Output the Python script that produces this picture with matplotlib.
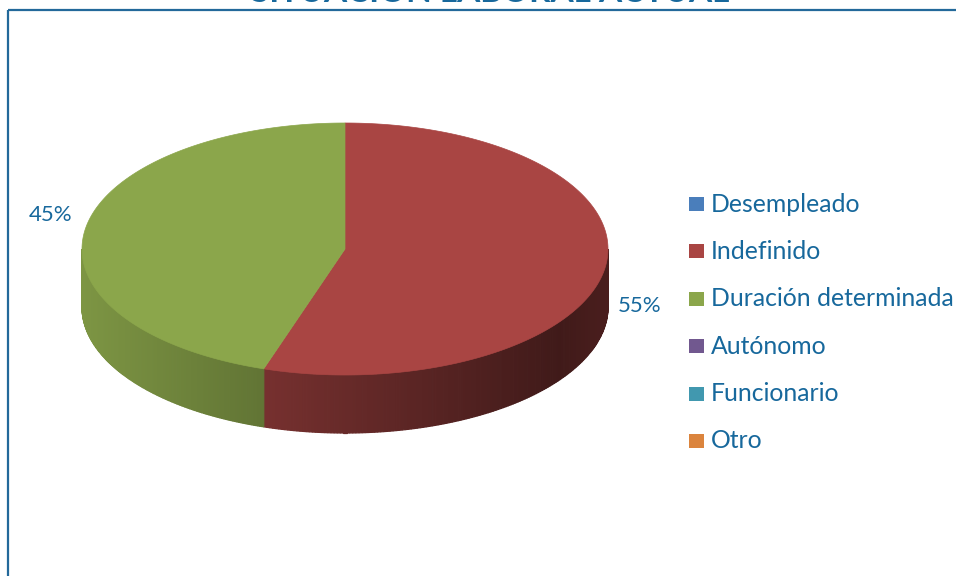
import numpy as np
import matplotlib
matplotlib.use("Agg")
import matplotlib.pyplot as plt
from matplotlib.patches import Polygon, Rectangle

# data
categories = ["Desempleado", "Indefinido", "Duración determinada",
              "Autónomo", "Funcionario", "Otro"]
values = [0, 55, 45, 0, 0, 0]
colors = ["#4a7ebb", "#a94543", "#8ba64b", "#71588f", "#4198af", "#db843d"]
title = "SITUACIÓN LABORAL ACTUAL"

TEXT = "#17689c"
plt.rcParams["font.family"] = ["Lato", "DejaVu Sans"]

W, H = 956, 576
fig = plt.figure(figsize=(W / 100, H / 100), dpi=100)
ax = fig.add_axes([0, 0, 1, 1])
ax.set_xlim(0, W)
ax.set_ylim(H, 0)
ax.axis("off")

# chart frame (only top and left edges visible)
ax.add_patch(Rectangle((8, 10), W + 20, H + 20, fill=False,
                       edgecolor="#23699a", lw=1.6))
ax.text(490, 7, title, ha="center", va="bottom", fontsize=24,
        fontweight="bold", color=TEXT)

# 3D pie geometry (pixels)
cx, cy, a, b, depth = 345, 249, 263, 126, 58


def ell(t):
    return cx + a * np.cos(t), cy - b * np.sin(t)


def shade(x):
    f = 0.9 - 0.52 * np.clip((x - 82) / (560 - 82), 0, 1)
    f += 0.06 * np.clip((x - 560) / 50, 0, 1)
    return f


total = sum(values)
slices = []
start = np.pi / 2
for v, c in zip(values, colors):
    if v == 0:
        continue
    sweep = 2 * np.pi * v / total
    slices.append((start - sweep, start, c, v))
    start -= sweep

# side walls (front half only), drawn as thin shaded strips
for t1, t2, c, v in slices:
    rgb = np.array(matplotlib.colors.to_rgb(c))
    for shift in (0, 2 * np.pi):
        lo, hi = max(t1 + shift, -np.pi), min(t2 + shift, 0)
        if hi <= lo:
            continue
        ts = np.linspace(lo, hi, 160)
        for i in range(len(ts) - 1):
            x0, y0 = ell(ts[i])
            x1, y1 = ell(ts[i + 1])
            col = np.clip(rgb * shade((x0 + x1) / 2), 0, 1)
            ax.add_patch(Polygon([(x0, y0), (x1, y1), (x1, y1 + depth),
                                  (x0, y0 + depth)], closed=True,
                                 facecolor=col, edgecolor=col, lw=0.9))

# top faces
for t1, t2, c, v in slices:
    ts = np.linspace(t1, t2, 200)
    xs, ys = ell(ts)
    pts = [(cx, cy)] + list(zip(xs, ys))
    ax.add_patch(Polygon(pts, closed=True, facecolor=c, edgecolor=c, lw=0.5))

# percentage labels
for t1, t2, c, v in slices:
    m = (t1 + t2) / 2
    lx = cx + 1.135 * a * np.cos(m)
    ly = cy - 1.15 * b * np.sin(m) + (0.6 * depth if np.sin(m) < 0 else -11)
    ax.text(lx, ly, f"{round(100 * v / total)}%", ha="center", va="center",
            fontsize=16, color=TEXT)

# legend
for i, (lab, c) in enumerate(zip(categories, colors)):
    y = 204 + i * 47.4
    ax.add_patch(Rectangle((689, y - 7), 15, 14, facecolor=c, edgecolor="none"))
    ax.text(711, y, lab, ha="left", va="center", fontsize=17.8, color=TEXT)

fig.savefig("out.png", dpi=100)
